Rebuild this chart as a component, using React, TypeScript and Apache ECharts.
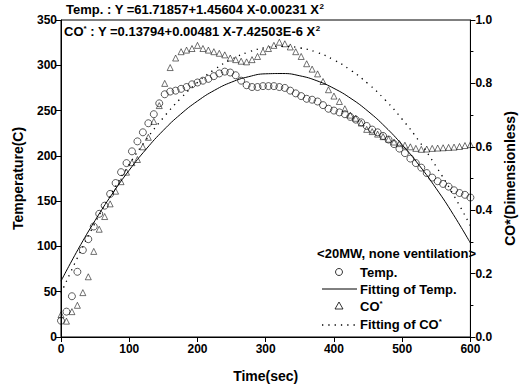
import React, { useEffect, useRef } from "react";
import * as echarts from "echarts";

const TIME = [0, 8, 16, 24, 32, 40, 48, 56, 64, 72, 80, 88, 96, 104, 112, 120, 128, 136, 144, 152, 160, 168, 176, 184, 192, 200, 208, 216, 224, 232, 240, 248, 256, 264, 272, 280, 288, 296, 304, 312, 320, 328, 336, 344, 352, 360, 368, 376, 384, 392, 400, 408, 416, 424, 432, 440, 448, 456, 464, 472, 480, 488, 496, 504, 512, 520, 528, 536, 544, 552, 560, 568, 576, 584, 592, 600];

const TEMP = [18, 28, 45, 72, 96, 108, 122, 136, 145, 158, 170, 182, 192, 205, 216, 226, 236, 246, 258, 268, 271, 272, 274, 276, 279, 281, 283, 285, 288, 291, 293, 292, 289, 283, 278, 276, 276, 277, 277, 277, 276, 275, 272, 269, 266, 263, 262, 260, 256, 252, 250, 248, 246, 243, 240, 237, 233, 229, 226, 222, 218, 213, 208, 203, 197, 192, 187, 181, 176, 172, 169, 166, 162, 159, 157, 154];

const CO = [0.07, 0.05, 0.08, 0.1, 0.14, 0.19, 0.27, 0.34, 0.38, 0.42, 0.46, 0.49, 0.52, 0.55, 0.56, 0.6, 0.63, 0.68, 0.73, 0.8, 0.85, 0.88, 0.9, 0.905, 0.91, 0.92, 0.91, 0.905, 0.9, 0.895, 0.89, 0.88, 0.875, 0.87, 0.868, 0.875, 0.885, 0.9, 0.91, 0.92, 0.93, 0.925, 0.915, 0.9, 0.885, 0.862, 0.845, 0.83, 0.806, 0.78, 0.76, 0.743, 0.72, 0.7, 0.69, 0.675, 0.655, 0.648, 0.64, 0.632, 0.624, 0.615, 0.61, 0.605, 0.6, 0.595, 0.592, 0.593, 0.595, 0.596, 0.597, 0.598, 0.599, 0.601, 0.604, 0.607];

const FIT_TIME = [0, 25, 50, 75, 100, 125, 150, 175, 200, 225, 250, 275, 300, 325, 350, 375, 400, 425, 450, 475, 500, 525, 550, 575, 600];
const TEMP_FIT = [61.7, 96.7, 128.7, 157.9, 184.2, 207.6, 228.2, 245.8, 260.5, 272.4, 281.4, 287.4, 290.6, 290.9, 288.4, 282.9, 274.5, 263.3, 249.2, 232.2, 212.2, 189.5, 163.8, 135.2, 103.7];
const CO_FIT = [0.138, 0.254, 0.36, 0.457, 0.545, 0.623, 0.692, 0.752, 0.803, 0.844, 0.876, 0.899, 0.913, 0.917, 0.912, 0.898, 0.874, 0.841, 0.799, 0.748, 0.687, 0.617, 0.537, 0.449, 0.351];

const TEMP_EQ = "Temp. : Y =61.71857+1.45604 X-0.00231 X";
const CO_EQ = " : Y =0.13794+0.00481 X-7.42503E-6 X";

const FONT = "Liberation Sans, Arial, sans-serif";

export default function App() {
  const ref = useRef<HTMLDivElement>(null);
  useEffect(() => {
    if (!ref.current) return;
    const chart = echarts.init(ref.current, null, { renderer: "svg" });
    const baseText = { fontFamily: FONT, fontWeight: "bold", fontSize: 12, color: "#000" };
    const rich = {
      n: { fontFamily: FONT, fontWeight: "bold", fontSize: 13, fill: "#000", color: "#000", lineHeight: 15 },
      s: { fontFamily: FONT, fontWeight: "bold", fontSize: 8, fill: "#000", color: "#000", lineHeight: 15, verticalAlign: "top" },
    };
    const legendFont = `bold 13px ${FONT}`;
    const axisLine = { show: true, lineStyle: { color: "#000", width: 1 } };
    chart.setOption({
      animation: false,
      backgroundColor: "#fff",
      grid: { left: 61, right: 48.5, top: 20, bottom: 53, show: true, borderColor: "#000", borderWidth: 1 },
      xAxis: {
        type: "value",
        min: 0,
        max: 600,
        interval: 100,
        name: "Time(sec)",
        nameLocation: "middle",
        nameGap: 32,
        nameTextStyle: { ...baseText, fontSize: 14 },
        axisLine,
        axisTick: { show: true, length: 5, lineStyle: { color: "#000" } },
        axisLabel: { ...baseText, margin: 6 },
        splitLine: { show: false },
      },
      yAxis: [
        {
          type: "value",
          min: 0,
          max: 350,
          interval: 50,
          name: "Temperature(C)",
          nameLocation: "middle",
          nameRotate: 90,
          nameGap: 36,
          nameTextStyle: { ...baseText, fontSize: 14 },
          axisLine,
          axisTick: { show: true, length: 5, lineStyle: { color: "#000" } },
          axisLabel: { ...baseText, margin: 4 },
          splitLine: { show: false },
        },
        {
          type: "value",
          position: "right",
          min: 0,
          max: 1,
          interval: 0.2,
          name: "CO*(Dimensionless)",
          nameLocation: "middle",
          nameRotate: 90,
          nameGap: 30,
          nameTextStyle: { ...baseText, fontSize: 14 },
          axisLine,
          axisTick: { show: true, length: 5, lineStyle: { color: "#000" } },
          minorTick: { show: true, splitNumber: 2, length: 3, lineStyle: { color: "#000" } },
          axisLabel: { ...baseText, margin: 5, formatter: (v: number) => v.toFixed(1) },
          splitLine: { show: false },
        },
      ],
      series: [
        {
          type: "scatter",
          name: "Temp.",
          yAxisIndex: 0,
          symbol: "circle",
          symbolSize: 7,
          itemStyle: { color: "rgba(0,0,0,0)", borderColor: "#000", borderWidth: 0.8 },
          data: TIME.map((t, i) => [t, TEMP[i]]),
        },
        {
          type: "line",
          name: "Fitting of Temp.",
          yAxisIndex: 0,
          smooth: true,
          showSymbol: false,
          lineStyle: { color: "#000", width: 1 },
          data: FIT_TIME.map((t, i) => [t, TEMP_FIT[i]]),
        },
        {
          type: "scatter",
          name: "CO*",
          yAxisIndex: 1,
          symbol: "triangle",
          symbolSize: 6,
          itemStyle: { color: "rgba(0,0,0,0)", borderColor: "#000", borderWidth: 0.7 },
          data: TIME.map((t, i) => [t, CO[i]]),
        },
        {
          type: "line",
          name: "Fitting of CO*",
          yAxisIndex: 1,
          smooth: true,
          showSymbol: false,
          lineStyle: { color: "#000", width: 1.3, type: [1.3, 5] },
          data: FIT_TIME.map((t, i) => [t, CO_FIT[i]]),
        },
      ],
      graphic: [
        {
          type: "text",
          left: 66,
          top: 2,
          style: { text: `{n|${TEMP_EQ}}{s|2}`, rich },
        },
        {
          type: "text",
          left: 64,
          top: 24,
          style: { text: `{n|CO}{s|*}{n|${CO_EQ}}{s|2}`, rich },
        },
        {
          type: "text",
          x: 476,
          y: 253,
          style: { text: "<20MW, none ventilation>", font: legendFont, fill: "#000", align: "right", verticalAlign: "middle" },
        },
        { type: "circle", shape: { cx: 339, cy: 272, r: 3.5 }, style: { fill: "none", stroke: "#000", lineWidth: 0.8 } },
        {
          type: "text",
          x: 360,
          y: 272,
          style: { text: "Temp.", font: legendFont, fill: "#000", align: "left", verticalAlign: "middle" },
        },
        { type: "line", shape: { x1: 322, y1: 289, x2: 357, y2: 289 }, style: { stroke: "#000", lineWidth: 1 } },
        {
          type: "text",
          x: 360,
          y: 289,
          style: { text: "Fitting of Temp.", font: legendFont, fill: "#000", align: "left", verticalAlign: "middle" },
        },
        {
          type: "polygon",
          shape: { points: [[339, 302], [343, 309], [335, 309]] },
          style: { fill: "none", stroke: "#000", lineWidth: 0.8 },
        },
        {
          type: "text",
          x: 360,
          y: 299,
          style: { text: "{n|CO}{s|*}", rich },
        },
        {
          type: "line",
          shape: { x1: 322, y1: 325, x2: 357, y2: 325 },
          style: { stroke: "#000", lineWidth: 1.3, lineDash: [1.3, 5] },
        },
        {
          type: "text",
          x: 360,
          y: 317,
          style: { text: "{n|Fitting of CO}{s|*}", rich },
        },
      ],
    });
    return () => chart.dispose();
  }, []);
  return <div ref={ref} style={{ position: "fixed", left: 0, top: 0, width: 525, height: 390 }} />;
}
